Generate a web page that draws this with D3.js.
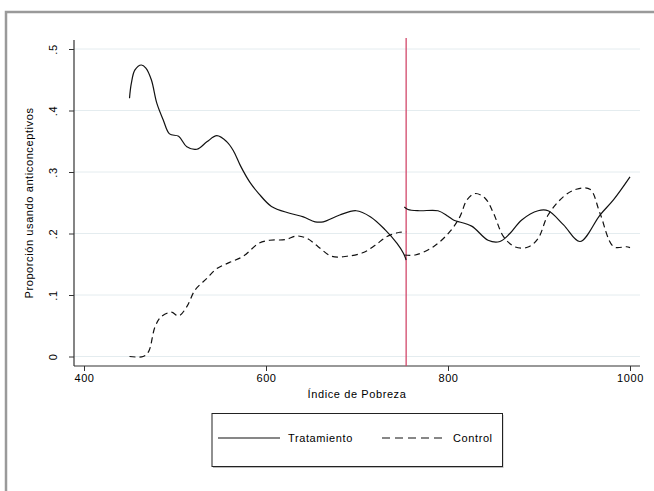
<!DOCTYPE html>
<html><head><meta charset="utf-8">
<script src="https://cdn.jsdelivr.net/npm/d3@7"></script>
<style>body{margin:0;background:#fff;}svg{display:block;font-family:"Liberation Sans",Arial,sans-serif;}</style>
</head><body>
<script>
// ---- data ----
const xTicks = [400, 600, 800, 1000];
const yTicks = [0, 0.1, 0.2, 0.3, 0.4, 0.5];
const yTickLabels = ["0", ".1", ".2", ".3", ".4", ".5"];
const cutoff = 754;
const seriesNames = ["Tratamiento", "Control"];

const treatLeftX = [450,452,456,463,468,474,480,487,494,504,513,524,535,546,557,564,572,582,592,606,626,641,654,663,681,699,715,731,744,751,754];
const treatLeftY = [.42,.444,.466,.474,.469,.45,.412,.385,.362,.358,.341,.337,.349,.359,.349,.335,.31,.284,.265,.244,.233,.227,.219,.219,.23,.237,.227,.206,.184,.168,.157];
const ctrlLeftX = [450,465,471,478,485,496,504,513,522,535,546,560,575,592,604,621,634,645,657,672,689,707,720,733,747,754];
const ctrlLeftY = [0,0,.008,.048,.065,.072,.066,.081,.108,.127,.143,.153,.163,.184,.189,.190,.196,.192,.179,.163,.163,.169,.181,.195,.202,.2025];
const treatRightX = [752,756,769,789,800,806,826,844,857,868,881,899,910,927,945,967,982,1000];
const treatRightY = [.243,.239,.237,.237,.228,.222,.212,.189,.187,.200,.222,.237,.237,.214,.187,.230,.255,.292];
const ctrlRightX = [752,764,784,802,813,821,830,841,850,861,874,888,899,910,927,941,956,967,982,996,1000];
const ctrlRightY = [.165,.165,.1785,.203,.227,.255,.265,.257,.233,.195,.178,.178,.192,.230,.26,.272,.272,.233,.1785,.1785,.177];

const W = 654, H = 491;
const FS = 11, LS = 0.6;
const svg = d3.select("body").append("svg").attr("width", W).attr("height", H);

// outer frame
svg.append("rect").attr("x", 6).attr("y", 12).attr("width", 700).attr("height", 600)
  .attr("fill", "none").attr("stroke", "#9a9a9a").attr("stroke-width", 2.5);

const x = d3.scaleLinear().domain([400, 1000]).range([84, 630]);
const y = d3.scaleLinear().domain([0, 0.5]).range([356.5, 49]);
const plotL = 74, plotR = 640, plotT = 40, plotB = 366;

// gridlines
svg.append("g").selectAll("line").data(yTicks).join("line")
  .attr("x1", plotL).attr("x2", plotR).attr("y1", d => y(d)).attr("y2", d => y(d))
  .attr("stroke", "#e4ecef").attr("stroke-width", 1);

// y axis
const yAxis = svg.append("g").attr("transform", `translate(${plotL},0)`)
  .call(d3.axisLeft(y).tickValues(yTicks).tickSize(5).tickFormat((d, i) => yTickLabels[i]));
yAxis.select(".domain").attr("d", `M0,${plotT}V${plotB}`).attr("stroke", "#333").attr("stroke-width", 1.2);
yAxis.selectAll(".tick line").attr("stroke", "#333");
yAxis.selectAll(".tick text").attr("transform", "rotate(-90)").attr("x", 0).attr("y", -17)
  .attr("dy", "0").attr("text-anchor", "middle").attr("font-size", FS).attr("fill", "#000")
  .attr("letter-spacing", LS).attr("font-family", "Liberation Sans, Arial, sans-serif");

// x axis
const xAxis = svg.append("g").attr("transform", `translate(0,${plotB})`)
  .call(d3.axisBottom(x).tickValues(xTicks).tickSize(5).tickFormat(d3.format("d")));
xAxis.select(".domain").attr("d", `M${plotL},0H${plotR}`).attr("stroke", "#333").attr("stroke-width", 1.2);
xAxis.selectAll(".tick line").attr("stroke", "#333");
xAxis.selectAll(".tick text").attr("y", 8).attr("font-size", FS).attr("fill", "#000")
  .attr("letter-spacing", LS).attr("font-family", "Liberation Sans, Arial, sans-serif");

// axis titles
svg.append("text").attr("x", (plotL + plotR) / 2).attr("y", 398).attr("text-anchor", "middle")
  .attr("font-size", FS).attr("letter-spacing", LS).text("Índice de Pobreza");
svg.append("text").attr("transform", `translate(33,${(plotT + plotB) / 2}) rotate(-90)`)
  .attr("text-anchor", "middle").attr("font-size", FS).attr("letter-spacing", LS)
  .text("Proporción usando anticonceptivos");

// cutoff line
svg.append("line").attr("x1", x(cutoff)).attr("x2", x(cutoff)).attr("y1", 38).attr("y2", plotB)
  .attr("stroke", "#d2476a").attr("stroke-width", 1.3);

// curves
const line = d3.line().x(d => x(d[0])).y(d => y(d[1])).curve(d3.curveCatmullRom.alpha(0.5));
function draw(xs, ys, dashed) {
  svg.append("path").datum(xs.map((v, i) => [v, ys[i]])).attr("d", line)
    .attr("fill", "none").attr("stroke", "#111").attr("stroke-width", 1.2)
    .attr("stroke-dasharray", dashed ? "6,4" : null);
}
draw(treatLeftX, treatLeftY, false);
draw(treatRightX, treatRightY, false);
draw(ctrlLeftX, ctrlLeftY, true);
draw(ctrlRightX, ctrlRightY, true);

// legend
const lg = svg.append("g");
lg.append("rect").attr("x", 213).attr("y", 415).attr("width", 290.5).attr("height", 53)
  .attr("fill", "#bbb");
lg.append("rect").attr("x", 212).attr("y", 413.5).attr("width", 290.5).attr("height", 53)
  .attr("fill", "#fff").attr("stroke", "#222").attr("stroke-width", 1);
lg.append("line").attr("x1", 218).attr("x2", 280).attr("y1", 438).attr("y2", 438)
  .attr("stroke", "#111").attr("stroke-width", 1.2);
lg.append("text").attr("x", 288).attr("y", 442).attr("font-size", FS).attr("letter-spacing", LS).text(seriesNames[0]);
lg.append("line").attr("x1", 382).attr("x2", 444).attr("y1", 438).attr("y2", 438)
  .attr("stroke", "#111").attr("stroke-width", 1.2).attr("stroke-dasharray", "8,5");
lg.append("text").attr("x", 453).attr("y", 442).attr("font-size", FS).attr("letter-spacing", LS).text(seriesNames[1]);
</script>
</body></html>
